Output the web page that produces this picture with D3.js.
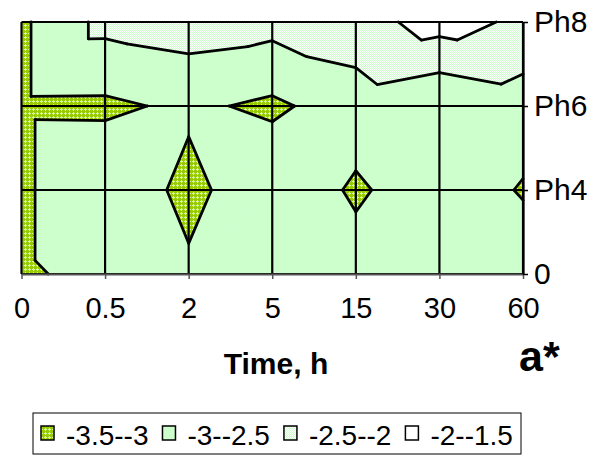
<!DOCTYPE html>
<html>
<head>
<meta charset="utf-8">
<script src="https://cdn.jsdelivr.net/npm/d3@7/dist/d3.min.js"></script>
<style>
  body { margin: 0; background: #fff; }
  text { font-family: "Liberation Sans", Arial, sans-serif; }
</style>
</head>
<body>
<div id="chart"></div>
<script>
// categories
const times = ['0', '0.5', '2', '5', '15', '30', '60'];
const levels = ['0', 'Ph4', 'Ph6', 'Ph8'];
// a* values, one array per level, one value per time
const row0   = [-3.083, -2.824, -2.912, -2.80, -2.781, -2.75, -2.707];
const rowPh4 = [-3.083, -2.571, -3.153, -2.593, -3.077, -2.672, -3.04];
const rowPh6 = [-3.083, -3.09, -2.912, -3.094, -2.742, -2.962, -2.748];
const rowPh8 = [-3.083, -2.354, -2.248, -2.33, -2.211, -1.796, -2.096];
// contour bands
const bandEdges = [-3.5, -3, -2.5, -2, -1.5];
const bandLabels = ['-3.5--3', '-3--2.5', '-2.5--2', '-2--1.5'];

const rows = [row0, rowPh4, rowPh6, rowPh8];
const width = 599, height = 456;
const font = '"Liberation Sans", Arial, sans-serif';

const svg = d3.select('#chart').append('svg')
    .attr('width', width)
    .attr('height', height);

// fill patterns like the excel ones
const defs = svg.append('defs');
const pDark = defs.append('pattern').attr('id', 'pDark')
    .attr('width', 4).attr('height', 4).attr('patternUnits', 'userSpaceOnUse');
pDark.append('rect').attr('width', 4).attr('height', 4).attr('fill', '#99cc00');
[[1, 0], [0, 1], [1, 1], [2, 1], [1, 2]].forEach(p => {
    pDark.append('rect').attr('x', p[0]).attr('y', p[1]).attr('width', 1).attr('height', 1).attr('fill', '#d4f7a0');
});
const pLight = defs.append('pattern').attr('id', 'pLight')
    .attr('width', 2).attr('height', 2).attr('patternUnits', 'userSpaceOnUse');
pLight.append('rect').attr('width', 2).attr('height', 2).attr('fill', '#ffffff');
pLight.append('rect').attr('width', 1).attr('height', 1).attr('fill', '#ccffcc');
pLight.append('rect').attr('x', 1).attr('y', 1).attr('width', 1).attr('height', 1).attr('fill', '#ccffcc');

const bandFills = ['url(#pDark)', '#ccffcc', 'url(#pLight)', '#ffffff'];

const x = d3.scalePoint().domain(times).range([21.5, 523]);
const y = d3.scalePoint().domain(levels).range([274, 22]);

function node(i, j) {
    return {x: x(times[i]), y: y(levels[j]), v: rows[j][i]};
}

// like excel: every cell is cut in two triangles along the diagonal with the higher mean
var triangles = [];
for (let j = 0; j < levels.length - 1; j++) {
    for (let i = 0; i < times.length - 1; i++) {
        const bl = node(i, j), br = node(i + 1, j), tr = node(i + 1, j + 1), tl = node(i, j + 1);
        if (tl.v + br.v >= tr.v + bl.v) {
            triangles.push([tl, tr, br], [tl, br, bl]);
        } else {
            triangles.push([tl, tr, bl], [tr, br, bl]);
        }
    }
}

function lerp(p, q, t) {
    const f = (t - p.v) / (q.v - p.v);
    return {x: p.x + f * (q.x - p.x), y: p.y + f * (q.y - p.y), v: t};
}
function clip(poly, t, above) {
    var out = [];
    for (let k = 0; k < poly.length; k++) {
        const p = poly[k], q = poly[(k + 1) % poly.length];
        const pin = above ? p.v >= t : p.v <= t;
        const qin = above ? q.v >= t : q.v <= t;
        if (pin) out.push(p);
        if (pin !== qin) out.push(lerp(p, q, t));
    }
    return out;
}

const line = d3.line().x(d => d.x).y(d => d.y);

// band fills
const gFill = svg.append('g');
bandFills.forEach((fill, b) => {
    triangles.forEach(tri => {
        const poly = clip(clip(tri, bandEdges[b], true), bandEdges[b + 1], false);
        if (poly.length < 3) return;
        gFill.append('path')
            .attr('d', line(poly) + 'Z')
            .attr('fill', fill)
            .attr('stroke', fill)
            .attr('stroke-width', 0.4);
    });
});

// grid lines
const gGrid = svg.append('g').attr('stroke', '#000').attr('stroke-width', 2.2);
gGrid.selectAll('line.v').data(times).enter().append('line')
    .attr('x1', d => x(d)).attr('x2', d => x(d))
    .attr('y1', y('Ph8')).attr('y2', y('0'));
gGrid.selectAll('line.h').data(levels).enter().append('line')
    .attr('x1', x('0')).attr('x2', x('60'))
    .attr('y1', d => y(d)).attr('y2', d => y(d));

// contour lines
var segs = [];
triangles.forEach(tri => {
    bandEdges.forEach(t => {
        var pts = [];
        for (let k = 0; k < 3; k++) {
            const p = tri[k], q = tri[(k + 1) % 3];
            if ((p.v - t) * (q.v - t) < 0) pts.push(lerp(p, q, t));
        }
        if (pts.length == 2) segs.push(pts);
    });
});
svg.append('g').selectAll('path').data(segs).enter().append('path')
    .attr('d', line)
    .attr('fill', 'none')
    .attr('stroke', '#000')
    .attr('stroke-width', 2.8)
    .attr('stroke-linecap', 'round');

// axes
const xAxis = svg.append('g')
    .attr('transform', 'translate(0,' + y('0') + ')')
    .call(d3.axisBottom(x).tickSize(5).tickSizeOuter(0).tickPadding(18));
xAxis.select('.domain').attr('stroke', '#555').attr('stroke-width', 2);
xAxis.selectAll('.tick line').attr('stroke', '#555').attr('stroke-width', 1.5);
xAxis.selectAll('text').attr('font-size', 29).attr('fill', '#000').style('font-family', font);

const yAxis = svg.append('g')
    .attr('transform', 'translate(' + x('60') + ',0)')
    .call(d3.axisRight(y).tickSize(5).tickSizeOuter(0).tickPadding(6));
yAxis.select('.domain').attr('stroke', '#000').attr('stroke-width', 2.2);
yAxis.selectAll('.tick line').attr('stroke', '#000').attr('stroke-width', 1.5);
yAxis.selectAll('text').attr('font-size', 30).attr('fill', '#000').style('font-family', font);

svg.append('text')
    .attr('x', 276).attr('y', 374)
    .attr('text-anchor', 'middle')
    .attr('font-size', 30).attr('font-weight', 'bold')
    .text('Time, h');

svg.append('text')
    .attr('x', 519).attr('y', 371)
    .attr('font-size', 43).attr('font-weight', 'bold')
    .text('a*');

// legend
const legend = svg.append('g');
legend.append('rect')
    .attr('x', 33).attr('y', 413).attr('width', 488).attr('height', 41)
    .attr('fill', '#fff').attr('stroke', '#000').attr('stroke-width', 1);
var lx = 41;
bandLabels.forEach((lab, b) => {
    legend.append('rect')
        .attr('x', lx).attr('y', 426).attr('width', 13).attr('height', 14)
        .attr('fill', bandFills[b]).attr('stroke', '#000').attr('stroke-width', 1.5);
    const t = legend.append('text')
        .attr('x', lx + 25).attr('y', 445)
        .attr('font-size', 28)
        .text(lab);
    lx += 25 + t.node().getComputedTextLength() + 14;
});
</script>
</body>
</html>
